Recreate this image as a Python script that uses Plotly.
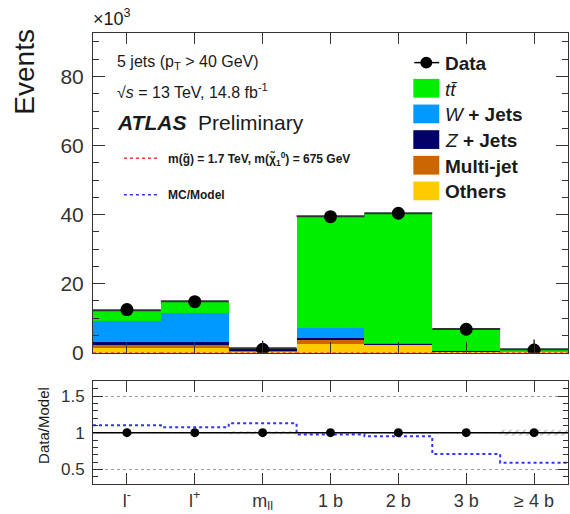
import plotly.graph_objects as go

# ---------------- data (values in units of 10^3 events) ----------------
categories = ["l<sup>-</sup>", "l<sup>+</sup>", "m<sub>ll</sub>", "1 b", "2 b", "3 b", "≥ 4 b"]
others   = [1.5, 1.5, 0.3, 2.5, 2.2, 0.3, 0.15]
multijet = [0.8, 0.8, 0.2, 1.2, 0.15, 0.05, 0.05]
zjets    = [0.9, 0.9, 0.6, 0.7, 0.15, 0.05, 0.05]
wjets    = [5.9, 8.3, 0.1, 2.9, 0.4, 0.1, 0.05]
ttbar    = [3.2, 3.4, 0.1, 32.2, 37.5, 6.4, 0.7]
data     = [12.5, 14.8, 1.0, 39.4, 40.4, 6.8, 0.8]
data_err = [0.1, 0.1, 2.5, 0.2, 0.2, 0.1, 3.0]
signal   = [0.02, 0.02, 0.01, 0.03, 0.03, 0.02, 0.02]
ratio_data = [1.0, 1.0, 1.0, 1.0, 1.0, 1.0, 1.0]
ratio_unc  = [0.01, 0.01, 0.02, 0.01, 0.01, 0.01, 0.04]
mc_over_model = [1.10, 1.075, 1.13, 0.975, 0.95, 0.71, 0.59]

# ---------------- layout geometry ----------------
W, H = 570, 514
L, R, T, B = 93, 1, 33, 24
FONT = "Liberation Sans, Arial, Helvetica, sans-serif"
TXT = "#1a1a1a"

def px(x):   # page pixel -> paper
    return (x - L) / (W - L - R)

def py(y):
    return (H - B - y) / (H - T - B)

xs = list(range(len(categories)))
edges = [i - 0.5 for i in range(len(categories) + 1)]

def step(vals):
    return vals + [vals[-1]]

def flat_segments(vals):
    sx, sy = [], []
    for i, v in enumerate(vals):
        sx += [edges[i], edges[i + 1], None]
        sy += [v, v, None]
    return sx, sy

components = [
    ("Others", others, "#ffcc00"),
    ("Multi-jet", multijet, "#cc6600"),
    ("Z + Jets", zjets, "#000066"),
    ("W + Jets", wjets, "#0099ff"),
    ("ttbar", ttbar, "#00ee00"),
]

fig = go.Figure()
for name, vals, col in components:
    fig.add_trace(go.Bar(x=xs, y=vals, width=1.0, name=name,
                         marker=dict(color=col, line=dict(width=0)),
                         xaxis="x", yaxis="y", showlegend=False))

total = [sum(v) for v in zip(others, multijet, zjets, wjets, ttbar)]
tx, ty = flat_segments(total)
fig.add_trace(go.Scatter(x=tx, y=ty, mode="lines",
                         line=dict(color="#333333", width=2), xaxis="x", yaxis="y",
                         showlegend=False))
sx, sy = flat_segments(signal)
fig.add_trace(go.Scatter(x=sx, y=sy, mode="lines",
                         line=dict(color="#ff3333", width=1.5, dash="dot"),
                         xaxis="x", yaxis="y", showlegend=False))
fig.add_trace(go.Scatter(x=xs, y=data, mode="markers",
                         marker=dict(color="black", size=13),
                         error_y=dict(type="data", array=data_err, color="black",
                                      thickness=1.2, width=0),
                         xaxis="x", yaxis="y", showlegend=False))

# ---------------- ratio panel ----------------
lo = [1 - u for u in ratio_unc]
hi = [1 + u for u in ratio_unc]
fig.add_trace(go.Scatter(x=edges, y=step(lo), mode="lines", line_shape="hv",
                         line=dict(width=0, color="#888888"), xaxis="x2", yaxis="y2",
                         showlegend=False))
fig.add_trace(go.Scatter(x=edges, y=step(hi), mode="lines", line_shape="hv",
                         line=dict(width=0, color="#888888"), fill="tonexty",
                         fillcolor="rgba(0,0,0,0)",
                         fillpattern=dict(shape="/", fgcolor="#777777", size=5, solidity=0.3),
                         xaxis="x2", yaxis="y2", showlegend=False))
fig.add_trace(go.Scatter(x=edges, y=step(mc_over_model), mode="lines", line_shape="hv",
                         line=dict(color="#3333ff", width=2, dash="dot"),
                         xaxis="x2", yaxis="y2", showlegend=False))
fig.add_trace(go.Scatter(x=xs, y=ratio_data, mode="markers",
                         marker=dict(color="black", size=9),
                         xaxis="x2", yaxis="y2", showlegend=False))

shapes = [
    dict(type="line", xref="x2", yref="y2", x0=edges[0], x1=edges[-1], y0=1, y1=1,
         line=dict(color="black", width=1.5)),
]

top_dom = [py(357), 1.0]
bot_dom = [0.0, py(386)]

axis_common = dict(showline=True, linecolor="#333333", linewidth=1, mirror="ticks",
                   ticks="inside", tickcolor="#333333", zeroline=False)

fig.update_layout(
    width=W, height=H, margin=dict(l=L, r=R, t=T, b=B),
    paper_bgcolor="white", plot_bgcolor="white",
    barmode="stack", bargap=0,
    font=dict(family=FONT, color=TXT),
    xaxis=dict(domain=[0, 1], range=[edges[0], edges[-1]], anchor="y",
               tickvals=xs, ticklen=11, showticklabels=False, showgrid=False,
               **axis_common),
    yaxis=dict(domain=top_dom, range=[0, 92.6], anchor="x",
               tickvals=[0, 20, 40, 60, 80], ticklen=12, showgrid=False,
               tickfont=dict(size=21, family=FONT, color="#333333"), ticklabelstandoff=4,
               minor=dict(dtick=5, ticks="inside", ticklen=6, tickcolor="#333333"),
               **axis_common),
    xaxis2=dict(domain=[0, 1], range=[edges[0], edges[-1]], anchor="y2",
                tickvals=xs, ticktext=categories, ticklen=11, showgrid=False,
                tickfont=dict(size=18, family=FONT, color="#333333"),
                **axis_common),
    yaxis2=dict(domain=bot_dom, range=[0.3, 1.7], anchor="x2",
                tickvals=[0.5, 1, 1.5], ticktext=["0.5", "1", "1.5"], ticklen=10,
                showgrid=True, gridcolor="#999999", griddash="dot", gridwidth=1,
                tickfont=dict(size=17, family=FONT, color="#333333"), ticklabelstandoff=4,
                minor=dict(dtick=0.1, ticks="inside", ticklen=5, tickcolor="#333333"),
                **axis_common),
)

ann = []
def text(x, y, s, size, xanchor="left", angle=0, color=TXT):
    ann.append(dict(xref="paper", yref="paper", x=px(x), y=py(y), text=s,
                    showarrow=False, xanchor=xanchor, yanchor="middle",
                    textangle=angle, font=dict(size=size, family=FONT, color=color)))

text(91, 17, "×10<sup>3</sup>", 18)
text(24, 72, "Events", 28, xanchor="center", angle=-90)
text(44, 431, "Data/Model", 15, xanchor="center", angle=-90)
text(115, 63, "5 jets (p<sub>T</sub> > 40 GeV)", 16)
text(115, 92, "√<i>s</i> = 13 TeV, 14.8 fb<sup>-1</sup>", 16)
text(115, 124, "<b><i>ATLAS</i></b>  Preliminary", 21)
text(166, 161, "<b>m(g̃) = 1.7 TeV, m(χ̃<sub>1</sub><sup>0</sup>) = 675 GeV</b>", 12)
text(166, 197, "<b>MC/Model</b>", 12)

shapes.append(dict(type="line", xref="paper", yref="paper", x0=px(124), x1=px(160),
                   y0=py(160), y1=py(160), line=dict(color="#ff3333", width=1.5, dash="dot")))
shapes.append(dict(type="line", xref="paper", yref="paper", x0=px(124), x1=px(160),
                   y0=py(197), y1=py(197), line=dict(color="#3333ff", width=1.5, dash="dot")))

# ---------------- legend (manual, ROOT style) ----------------
shapes.append(dict(type="line", xref="paper", yref="paper", x0=px(415), x1=px(440),
                   y0=py(63), y1=py(63), line=dict(color="black", width=1.5)))
shapes.append(dict(type="circle", xref="paper", yref="paper", x0=px(421), x1=px(433),
                   y0=py(69), y1=py(57), fillcolor="black", line=dict(color="black", width=0)))
text(444, 64, "<b>Data</b>", 19)

legend_items = [
    ("<i>tt̄</i>", "#00ee00", 89),
    ("<i>W</i> <b>+ Jets</b>", "#0099ff", 115),
    ("<i>Z</i> <b>+ Jets</b>", "#000066", 141),
    ("<b>Multi-jet</b>", "#cc6600", 167),
    ("<b>Others</b>", "#ffcc00", 193),
]
for label, col, yc in legend_items:
    shapes.append(dict(type="rect", xref="paper", yref="paper", x0=px(414), x1=px(440),
                       y0=py(yc + 9.5), y1=py(yc - 9.5), fillcolor=col,
                       line=dict(width=0)))
    text(444, yc + 1, label, 19)

fig.update_layout(shapes=shapes, annotations=ann)

post = ("document.body.style.margin='0';"
        "document.body.style.overflow='hidden';"
        "var gd=document.querySelector('.plotly-graph-div');"
        "gd.style.position='fixed';gd.style.left='0px';gd.style.top='0px';")
fig.write_html("out.html", config={"displayModeBar": False, "staticPlot": True},
               post_script=post)
